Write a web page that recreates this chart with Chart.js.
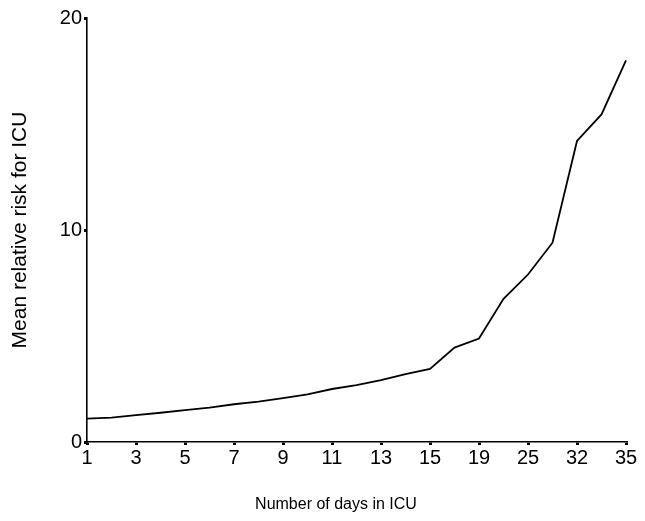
<!DOCTYPE html>
<html>
<head>
<meta charset="utf-8">
<script src="https://cdn.jsdelivr.net/npm/chart.js@4/dist/chart.umd.min.js"></script>
<style>
  body { margin: 0; background: #fff; }
  #wrap { width: 645px; height: 521px; }
</style>
</head>
<body>
<div id="wrap"><canvas id="riskChart"></canvas></div>
<script>
  // days in ICU (only every other one gets a label on the axis)
  const days = ['1', '2', '3', '4', '5', '6', '7', '8', '9', '10', '11', '12', '13', '14', '15',
    '17', '19', '22', '25', '28', '32', '34', '35'];
  const meanRisk = [1.1, 1.15, 1.27, 1.38, 1.5, 1.62, 1.78, 1.9, 2.07, 2.25, 2.5, 2.68, 2.92, 3.2, 3.45,
    4.45, 4.88, 6.75, 7.9, 9.4, 14.2, 15.45, 18.0];
  const yTicks = [0, 10, 20];
  const xTitle = 'Number of days in ICU';
  const yTitle = 'Mean relative risk for ICU';

  const fam = 'Liberation Sans, Arial, sans-serif';

  // x title sits a bit left of the plot centre in the original
  const xTitlePlugin = {
    id: 'xTitle',
    afterDraw(chart) {
      const c = chart.ctx;
      c.save();
      c.font = '16px ' + fam;
      c.fillStyle = '#000';
      c.textAlign = 'center';
      c.textBaseline = 'middle';
      c.fillText(xTitle, 336, 505);
      c.restore();
    }
  };

  var ctx = document.getElementById('riskChart').getContext('2d');
  var riskChart = new Chart(ctx, {
    type: 'line',
    data: {
      labels: days,
      datasets: [{
        data: meanRisk,
        borderColor: '#000',
        borderWidth: 1.8,
        pointRadius: 0,
        tension: 0,
        fill: false
      }]
    },
    options: {
      responsive: true,
      maintainAspectRatio: false,
      animation: false,
      layout: {
        padding: { top: 18, right: 19, bottom: 0, left: 0 }
      },
      plugins: {
        legend: { display: false },
        tooltip: { enabled: false }
      },
      scales: {
        x: {
          offset: false,
          afterFit: (axis) => { axis.height = 79; },
          border: { display: true, color: '#000', width: 1.6 },
          grid: {
            drawOnChartArea: false,
            tickLength: 3,
            lineWidth: 3,
            color: (c) => (c.index % 2 === 0 ? '#000' : 'rgba(0,0,0,0)')
          },
          ticks: {
            autoSkip: false,
            maxRotation: 0,
            color: '#000',
            font: { family: fam, size: 20 },
            padding: 1,
            callback: function (val, i) { return i % 2 === 0 ? days[i] : ''; }
          }
        },
        y: {
          min: 0,
          max: 20,
          afterBuildTicks: (axis) => { axis.ticks = yTicks.map(v => ({ value: v })); },
          afterFit: (axis) => { axis.width = 87; },
          border: { display: true, color: '#000', width: 1.6 },
          grid: {
            drawOnChartArea: false,
            tickLength: 3,
            lineWidth: 3,
            color: '#000'
          },
          ticks: {
            color: '#000',
            font: { family: fam, size: 20 },
            padding: 2
          },
          title: {
            display: true,
            text: yTitle,
            color: '#000',
            font: { family: fam, size: 21 },
            padding: { top: 8, bottom: 0 }
          }
        }
      }
    },
    plugins: [xTitlePlugin]
  });
</script>
</body>
</html>
